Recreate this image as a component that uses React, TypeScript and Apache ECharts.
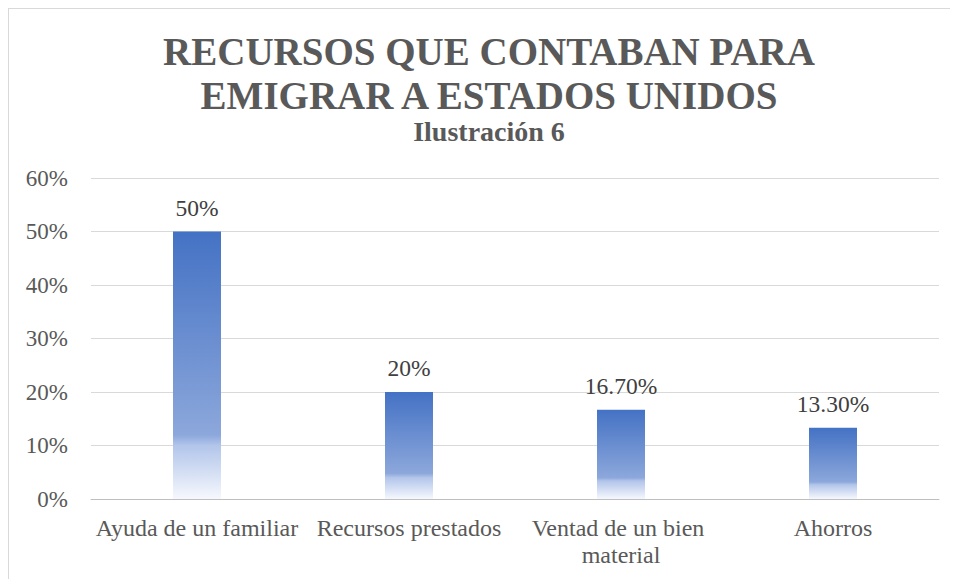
import React, { useEffect, useRef } from "react";
import * as echarts from "echarts";

const titleLines = ["RECURSOS QUE CONTABAN PARA", "EMIGRAR A ESTADOS UNIDOS"];
const subtitle = "Ilustración 6";
const categories = ["Ayuda de un familiar", "Recursos prestados", "Ventad de un bien material", "Ahorros"];
const values = [50, 20, 16.7, 13.3];
const yTicks = { min: 0, max: 60, interval: 10 };

const FONT = "Liberation Serif";

export default function App() {
  const ref = useRef<HTMLDivElement>(null);
  useEffect(() => {
    if (!ref.current) return;
    const chart = echarts.init(ref.current, undefined, { renderer: "svg" });
    const gradient = new echarts.graphic.LinearGradient(0, 0, 0, 1, [
      { offset: 0, color: "#4472C4" },
      { offset: 0.76, color: "#8CA7DB" },
      { offset: 0.8, color: "#B2C5EA" },
      { offset: 1, color: "#F6F8FD" },
    ]);
    const titleText = (text: string, y: number, size: number) => ({
      type: "text",
      x: 480,
      y,
      style: {
        text,
        fill: "#595959",
        fontFamily: FONT,
        fontWeight: "bold",
        fontSize: size,
        align: "center",
        verticalAlign: "middle",
      },
    });
    chart.setOption({
      animation: false,
      backgroundColor: "#ffffff",
      textStyle: { fontFamily: FONT },
      graphic: [
        titleText(titleLines[0], 42.6, 39),
        titleText(titleLines[1], 86.3, 39),
        titleText(subtitle, 122, 28),
      ],
      grid: { left: 82, right: 19, top: 169, bottom: 80, containLabel: false },
      xAxis: {
        type: "category",
        data: categories,
        axisLine: { show: true, lineStyle: { color: "#BFBFBF", width: 1 } },
        axisTick: { show: false },
        axisLabel: {
          interval: 0,
          color: "#595959",
          fontSize: 24,
          fontFamily: FONT,
          margin: 15,
          lineHeight: 27,
          width: 210,
          overflow: "break",
        },
      },
      yAxis: {
        type: "value",
        min: yTicks.min,
        max: yTicks.max,
        interval: yTicks.interval,
        axisLine: { show: false },
        axisTick: { show: false },
        splitLine: { lineStyle: { color: "#D9D9D9", width: 1 } },
        axisLabel: {
          formatter: "{value}%",
          color: "#595959",
          fontSize: 23,
          fontFamily: FONT,
          margin: 23,
        },
      },
      series: [
        {
          type: "bar",
          data: values,
          barWidth: 48,
          itemStyle: { color: gradient },
          label: {
            show: true,
            position: "top",
            distance: 12,
            color: "#404040",
            fontSize: 23.5,
            fontFamily: FONT,
            formatter: (p: any) =>
              Number.isInteger(p.value) ? `${p.value}%` : `${p.value.toFixed(2)}%`,
          },
        },
      ],
    });
    return () => chart.dispose();
  }, []);
  return (
    <div
      ref={ref}
      style={{
        width: 950,
        height: 571,
        boxSizing: "border-box",
        borderLeft: "1px solid #D9D9D9",
        borderTop: "1px solid #D9D9D9",
      }}
    />
  );
}
